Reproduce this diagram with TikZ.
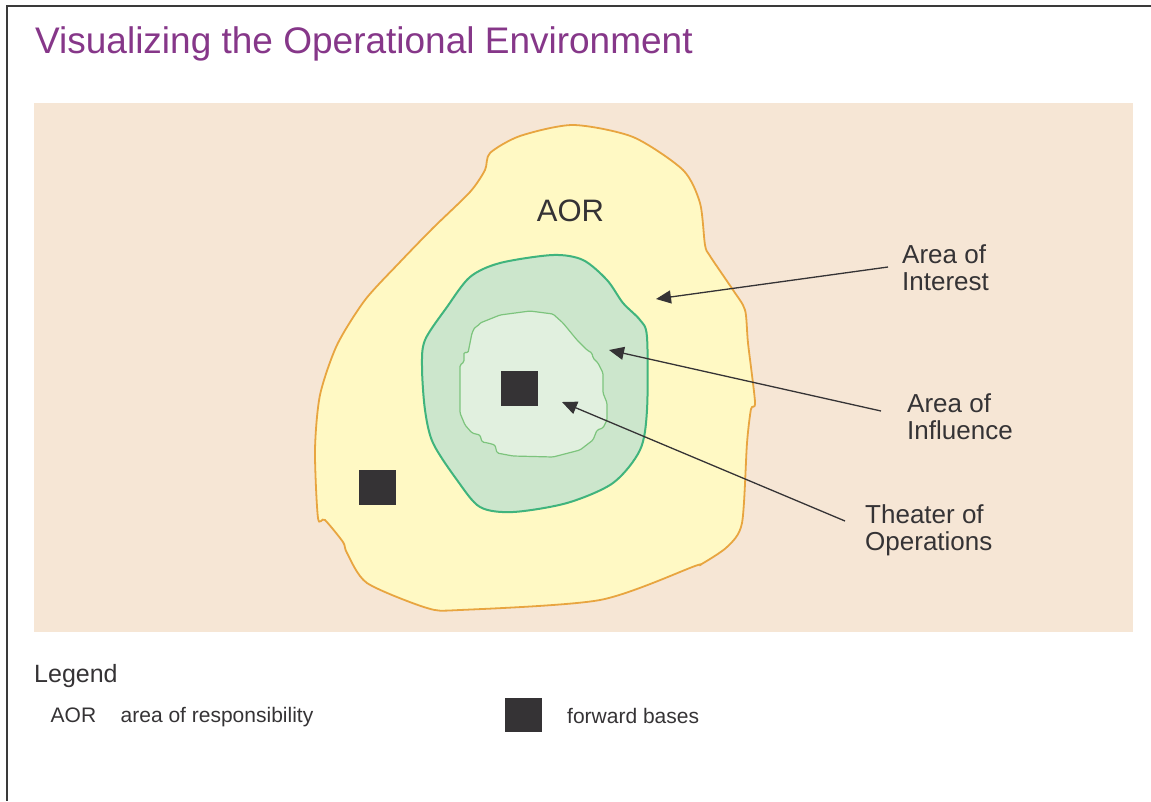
\documentclass[tikz,border=0pt]{standalone}
\usepackage{fontspec}
\setmainfont{Liberation Sans}
\usetikzlibrary{arrows.meta}
\definecolor{beige}{RGB}{246,230,213}
\definecolor{aoryellow}{RGB}{255,249,196}
\definecolor{aororange}{RGB}{232,165,64}
\definecolor{midgreen}{RGB}{204,230,204}
\definecolor{midgreenline}{RGB}{64,180,125}
\definecolor{ingreen}{RGB}{225,240,223}
\definecolor{ingreenline}{RGB}{125,196,125}
\definecolor{darkgrey}{RGB}{53,51,53}
\definecolor{titlepurple}{RGB}{134,55,137}
\definecolor{framegrey}{RGB}{58,58,58}
\tikzset{
  fbase/.style={fill=darkgrey, draw=none, inner sep=0pt, minimum width=37pt, minimum height=35pt},
  lbl/.style={align=left, inner sep=0pt, text=darkgrey, font=\fontsize{26}{27.5}\selectfont},
  legtxt/.style={inner sep=0pt, text=darkgrey, font=\fontsize{21}{24}\selectfont},
  arr/.style={draw=darkgrey, line width=1.3pt, -{Triangle[length=15pt,width=13pt]}},
}
\begin{document}
\begin{tikzpicture}[x=1pt,y=-1pt]
\useasboundingbox (0,0) rectangle (1151,801);
% frame
\draw[framegrey, line width=2.2pt] (1151,6) -- (7,6) -- (7,801);
% title
\node[anchor=base west, inner sep=0pt, text=titlepurple, font=\fontsize{37}{40}\selectfont] (title) at (35,53) {Visualizing the Operational Environment};
% background
\fill[beige] (34,103) rectangle (1133,632);
% AOR
\draw[aororange, line width=1.8pt, fill=aoryellow] plot[smooth cycle, tension=0.45] coordinates {
 (573,125) (633,137) (683,170) (700,203) (705,245) (710,256) (733,290) (745,310) (748,343) (755,402) (751,409) (747,443) (742,523) (727,547) (700,565) (695,566) (600,600) (460,610) (427,608) (367,583) (347,553) (343,542) (325,520) (318,518) (315,450) (320,395) (337,345) (365,300) (400,262) (433,228) (470,192) (485,170) (490,153) (520,136)};
% area of interest (green)
\draw[midgreenline, line width=2pt, fill=midgreen] plot[smooth cycle, tension=0.5] coordinates {
 (553,255) (500,263) (470,277) (447,307) (425,340) (422,367) (425,410) (433,443) (457,480) (480,507) (513,512) (567,503) (613,483) (640,450) (647,410) (647,337) (640,320) (623,303) (607,280) (583,260)};
% theater (inner)
\draw[ingreenline, line width=1.2pt, fill=ingreen, rounded corners=1.5pt]
 (480,323) -- (500,315) -- (530,311) -- (553,314) -- (563,323) -- (577,340) -- (587,350) -- (592,353) -- (593,358) -- (598,363) -- (603,373) -- (603,393) -- (607,403) -- (607,420) -- (603,428) -- (597,430) -- (593,440) -- (580,450) -- (553,457) -- (513,456) -- (497,453) -- (495,445) -- (488,443) -- (482,442) -- (480,435) -- (472,433) -- (465,425) -- (460,413) -- (460,365) -- (464,362) -- (464,352) -- (468,353) -- (472,333) -- (475,327) -- (478,326) -- cycle;
% forward bases
\node[fbase] (fb1) at (519.5,388.5) {};
\node[fbase] (fb2) at (377,487.5) {};
% AOR label
\node[anchor=base, inner sep=0pt, text=darkgrey, font=\fontsize{31}{34}\selectfont] (aor) at (570.5,221.5) {AOR};
% labels
\node[lbl, anchor=north west] (interest) at (902,244) {Area of\\Interest};
\node[lbl, anchor=north west] (influence) at (907,393) {Area of\\Influence};
\node[lbl, anchor=north west] (theater) at (865,504) {Theater of\\Operations};
% arrows
\coordinate (sI) at (888,267);
\coordinate (tI) at (656,299);
\coordinate (sF) at (881,411);
\coordinate (tF) at (609,350);
\coordinate (sT) at (845,521);
\coordinate (tT) at (562,402);
\draw[arr] (sI) -- (tI);
\draw[arr] (sF) -- (tF);
\draw[arr] (sT) -- (tT);
% legend
\node[anchor=base west, inner sep=0pt, text=darkgrey, font=\fontsize{25}{28}\selectfont] (legend) at (34,682.3) {Legend};
\node[legtxt, anchor=base west] (legaor) at (50.5,722.7) {AOR};
\node[legtxt, anchor=base west] (legaortxt) at (120.5,722.7) {area of responsibility};
\node[fbase, minimum height=34pt] (legsq) at (523.5,715) {};
\node[legtxt, anchor=base west] (legfb) at (567,723) {forward bases};
\end{tikzpicture}
\end{document}
